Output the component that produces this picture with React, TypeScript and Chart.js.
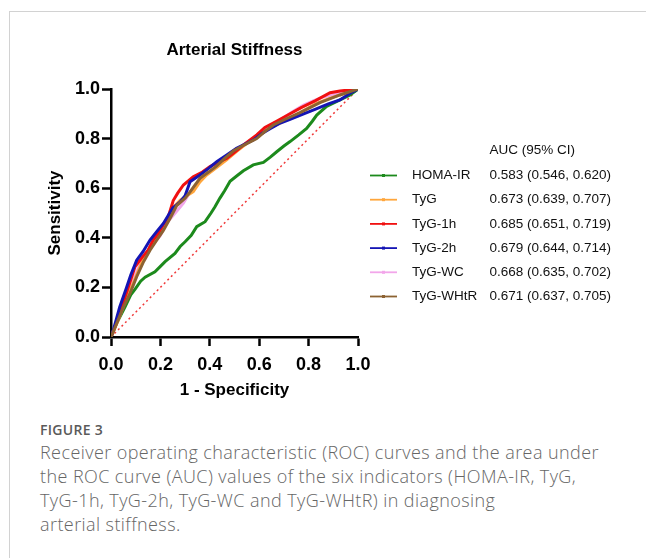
import React, { useEffect, useRef } from "react";
import { Chart, registerables } from "chart.js";

Chart.register(...registerables);

// ---------- data ----------
const seriesNames = ["HOMA-IR", "TyG", "TyG-1h", "TyG-2h", "TyG-WC", "TyG-WHtR"];
const aucLabels = [
  "0.583 (0.546, 0.620)",
  "0.673 (0.639, 0.707)",
  "0.685 (0.651, 0.719)",
  "0.679 (0.644, 0.714)",
  "0.668 (0.635, 0.702)",
  "0.671 (0.637, 0.705)",
];
const tickValues = [0, 0.2, 0.4, 0.6, 0.8, 1.0];

const homaIR = [
  [0, 0], [0.02, 0.05], [0.057, 0.122], [0.08, 0.17], [0.097, 0.192], [0.12, 0.225],
  [0.138, 0.241], [0.178, 0.263], [0.2, 0.285], [0.219, 0.304], [0.259, 0.337],
  [0.28, 0.365], [0.3, 0.384], [0.325, 0.41], [0.347, 0.445], [0.381, 0.465],
  [0.405, 0.5], [0.421, 0.525], [0.441, 0.56], [0.46, 0.59], [0.482, 0.628],
  [0.51, 0.65], [0.536, 0.67], [0.576, 0.694], [0.617, 0.704], [0.645, 0.725],
  [0.671, 0.747], [0.7, 0.77], [0.725, 0.788], [0.76, 0.815], [0.792, 0.841],
  [0.815, 0.87], [0.833, 0.895], [0.873, 0.93], [0.927, 0.956], [0.968, 0.976], [1, 1],
];
const tyg = [
  [0, 0], [0.03, 0.07], [0.06, 0.15], [0.09, 0.216], [0.12, 0.29], [0.158, 0.364],
  [0.19, 0.42], [0.225, 0.472], [0.25, 0.52], [0.28, 0.552], [0.333, 0.586],
  [0.36, 0.625], [0.387, 0.653], [0.43, 0.685], [0.468, 0.714], [0.51, 0.75],
  [0.549, 0.78], [0.59, 0.81], [0.63, 0.835], [0.69, 0.865], [0.738, 0.888],
  [0.79, 0.918], [0.833, 0.942], [0.88, 0.96], [0.927, 0.976], [1, 1],
];
const tyg1h = [
  [0, 0], [0.02, 0.05], [0.04, 0.11], [0.07, 0.2], [0.097, 0.283], [0.125, 0.32],
  [0.151, 0.351], [0.17, 0.39], [0.192, 0.418], [0.21, 0.45], [0.232, 0.485],
  [0.252, 0.55], [0.27, 0.58], [0.293, 0.613], [0.333, 0.646], [0.37, 0.665],
  [0.401, 0.687], [0.435, 0.705], [0.468, 0.72], [0.5, 0.745], [0.536, 0.774],
  [0.59, 0.815], [0.623, 0.845], [0.67, 0.87], [0.725, 0.9], [0.77, 0.925],
  [0.826, 0.952], [0.887, 0.985], [0.927, 0.992], [1, 1],
];
const tyg2h = [
  [0, 0], [0.01, 0.03], [0.035, 0.12], [0.063, 0.2], [0.08, 0.25], [0.104, 0.31],
  [0.13, 0.345], [0.158, 0.391], [0.185, 0.425], [0.212, 0.458], [0.25, 0.52],
  [0.28, 0.545], [0.3, 0.57], [0.32, 0.626], [0.36, 0.653], [0.395, 0.68],
  [0.428, 0.707], [0.47, 0.735], [0.508, 0.761], [0.576, 0.794], [0.61, 0.82],
  [0.644, 0.84], [0.68, 0.86], [0.725, 0.878], [0.78, 0.9], [0.826, 0.918],
  [0.88, 0.94], [0.927, 0.956], [0.968, 0.983], [1, 1],
];
const tygWC = [
  [0, 0], [0.036, 0.095], [0.06, 0.16], [0.09, 0.23], [0.12, 0.3], [0.158, 0.36],
  [0.2, 0.41], [0.225, 0.46], [0.26, 0.5], [0.293, 0.54], [0.32, 0.585],
  [0.347, 0.615], [0.38, 0.65], [0.414, 0.675], [0.455, 0.71], [0.495, 0.742],
  [0.535, 0.772], [0.576, 0.8], [0.615, 0.83], [0.657, 0.857], [0.7, 0.885],
  [0.738, 0.91], [0.78, 0.935], [0.819, 0.952], [0.86, 0.968], [0.9, 0.978], [1, 1],
];
const tygWHtR = [
  [0, 0], [0.023, 0.055], [0.05, 0.12], [0.077, 0.176], [0.104, 0.243], [0.13, 0.3],
  [0.158, 0.35], [0.185, 0.39], [0.212, 0.43], [0.24, 0.48], [0.266, 0.53],
  [0.3, 0.56], [0.32, 0.585], [0.36, 0.64], [0.395, 0.665], [0.428, 0.69],
  [0.46, 0.72], [0.495, 0.75], [0.54, 0.775], [0.59, 0.8], [0.625, 0.83],
  [0.657, 0.855], [0.71, 0.88], [0.765, 0.905], [0.846, 0.945], [0.927, 0.976], [1, 1],
];
const reference = [[0, 0], [1, 1]];

// ---------- styles ----------
const seriesColors = ["#1c8a1c", "#ffa63c", "#f01010", "#1414b4", "#f2a6ea", "#8c6232"];
const seriesData = [homaIR, tyg, tyg1h, tyg2h, tygWC, tygWHtR];
// draw order: first in list = top-most
const drawOrder = [5, 3, 2, 1, 4, 0];
const FONT = '"Liberation Sans", Arial, Helvetica, sans-serif';

const legendPlugin = {
  id: "aucLegend",
  afterDraw(chart: any) {
    const ctx = chart.ctx;
    const left = chart.chartArea.right;
    ctx.save();
    ctx.font = `13.5px ${FONT}`;
    ctx.fillStyle = "#111";
    ctx.textBaseline = "middle";
    ctx.textAlign = "left";
    ctx.fillText("AUC (95% CI)", left + 131.5, 150);
    seriesNames.forEach((name, i) => {
      const y = 175.5 + i * 24.2;
      ctx.strokeStyle = seriesColors[i];
      ctx.lineWidth = 1.8;
      ctx.beginPath();
      ctx.moveTo(left + 12, y);
      ctx.lineTo(left + 39, y);
      ctx.stroke();
      ctx.fillStyle = seriesColors[i];
      ctx.fillRect(left + 24, y - 1.5, 3, 3);
      ctx.fillStyle = "#111";
      ctx.fillText(name, left + 54, y);
      ctx.fillText(aucLabels[i], left + 131.5, y);
    });
    ctx.restore();
  },
};

export default function App() {
  const canvasRef = useRef<HTMLCanvasElement | null>(null);

  useEffect(() => {
    if (!canvasRef.current) return;
    const datasets: any[] = drawOrder.map((idx) => ({
      label: seriesNames[idx],
      data: seriesData[idx].map(([x, y]) => ({ x, y })),
      showLine: true,
      borderColor: seriesColors[idx],
      backgroundColor: seriesColors[idx],
      borderWidth: 3,
      pointRadius: 0,
      fill: false,
      tension: 0,
    }));
    datasets.push({
      label: "reference",
      data: reference.map(([x, y]) => ({ x, y })),
      showLine: true,
      borderColor: "#f03a3a",
      borderWidth: 1.5,
      borderDash: [2, 3],
      pointRadius: 0,
      fill: false,
    });

    const tickFont = { family: FONT, size: 18, weight: "bold" as const };
    const titleFont = { family: FONT, size: 17, weight: "bold" as const };

    const chart = new Chart(canvasRef.current, {
      type: "scatter",
      data: { datasets },
      options: {
        responsive: false,
        animation: false,
        events: [],
        layout: { padding: { left: 0, right: 288, top: 0, bottom: 0 } },
        plugins: {
          legend: { display: false },
          tooltip: { enabled: false },
          title: {
            display: true,
            text: "Arterial Stiffness",
            fullSize: false,
            color: "#000",
            font: titleFont,
            padding: { top: 40.3, bottom: 28.3 },
          },
        },
        scales: {
          x: {
            type: "linear",
            min: 0,
            max: 1,
            afterBuildTicks: (s: any) => {
              s.ticks = tickValues.map((v) => ({ value: v }));
            },
            ticks: {
              callback: (v: any) => Number(v).toFixed(1),
              color: "#000",
              font: tickFont,
              padding: 8,
              maxRotation: 0,
              autoSkip: false,
            },
            grid: { drawOnChartArea: false, drawTicks: true, tickLength: 9, tickWidth: 2.5, color: "#000" },
            border: { display: true, color: "#000", width: 2.5 },
            title: {
              display: true,
              text: "1 - Specificity",
              color: "#000",
              font: titleFont,
              padding: { top: 0, bottom: 19 },
            },
            afterFit: (s: any) => {
              s.height = 83;
            },
          },
          y: {
            type: "linear",
            min: 0,
            max: 1,
            afterBuildTicks: (s: any) => {
              s.ticks = tickValues.map((v) => ({ value: v }));
            },
            ticks: {
              callback: (v: any) => Number(v).toFixed(1),
              color: "#000",
              font: tickFont,
              padding: 2,
              autoSkip: false,
            },
            grid: { drawOnChartArea: false, drawTicks: true, tickLength: 9, tickWidth: 2.5, color: "#000" },
            border: { display: true, color: "#000", width: 2.5 },
            title: {
              display: true,
              text: "Sensitivity",
              color: "#000",
              font: titleFont,
              padding: { top: 44.8, bottom: 0 },
            },
            afterFit: (s: any) => {
              s.width = 111;
            },
          },
        },
      },
      plugins: [legendPlugin],
    } as any);
    return () => chart.destroy();
  }, []);

  return (
    <div style={{ position: "absolute", left: 0, top: 0, width: 646, height: 558, overflow: "hidden", background: "#fff" }}>
      <div style={{ position: "absolute", left: 9, top: 11, width: 637, height: 1, background: "#d2d2d2" }} />
      <div style={{ position: "absolute", left: 9, top: 11, width: 1, height: 547, background: "#d2d2d2" }} />
      <canvas
        ref={canvasRef}
        width={646}
        height={420}
        style={{ position: "absolute", left: 0, top: 0, width: 646, height: 420 }}
      />
      <div
        style={{
          position: "absolute",
          left: 40,
          top: 420,
          fontFamily: '"Open Sans", sans-serif',
          fontWeight: 600,
          fontSize: 14,
          lineHeight: "20px",
          color: "#5a5a5a",
          letterSpacing: 0.3,
        }}
      >
        FIGURE 3
      </div>
      <div
        style={{
          position: "absolute",
          left: 40,
          top: 440,
          width: 606,
          fontFamily: '"Open Sans", sans-serif',
          fontWeight: 300,
          fontSize: 18,
          letterSpacing: 0.42,
          lineHeight: "24px",
          color: "#666",
          whiteSpace: "nowrap",
        }}
      >
        Receiver operating characteristic (ROC) curves and the area under
        <br />
        the ROC curve (AUC) values of the six indicators (HOMA-IR, TyG,
        <br />
        TyG-1h, TyG-2h, TyG-WC and TyG-WHtR) in diagnosing
        <br />
        arterial stiffness.
      </div>
    </div>
  );
}
